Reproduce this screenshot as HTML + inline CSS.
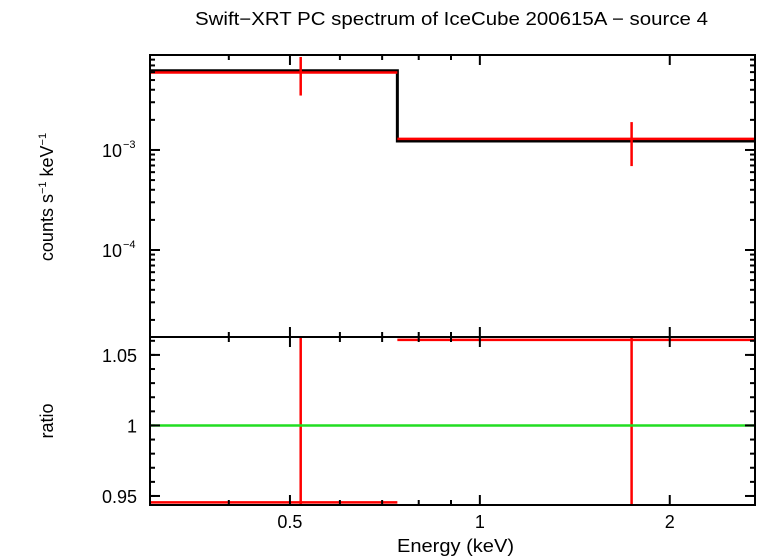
<!DOCTYPE html>
<html><head><meta charset="utf-8"><style>
body{margin:0;background:#fff}
svg{display:block;font-family:"Liberation Sans",sans-serif}
</style></head><body>
<svg id="c" width="758" height="556"></svg>
<script>
const binLo=[0.30,0.74];
const binHi=[0.74,2.73];
const binCenter=[0.52,1.74];
const dataRate=[5.95e-3,1.29e-3];
const errLo=[3.5e-3,6.9e-4];
const errHi=[8.5e-3,1.9e-3];
const modelRate=[6.2e-3,1.23e-3];
const ratio=[0.9455,1.0607];
const ratioLo=[0.90,0.90];
const ratioHi=[1.10,1.10];
const xMajor=[0.5,1,2];
const xMajorLabels=["0.5","1","2"];
const xMinor=[0.3,0.4,0.6,0.7,0.8,0.9];
const yMajor=[1e-4,1e-3];
const yMajorLabels=["10","10"];
const rTicks=[0.95,1,1.05];
const rLabels=["0.95","1","1.05"];

const L=150,R=755,T1=55,B1=337,T2=337,B2=505;
const xMin=0.30,xMax=2.73,yMin=1.35e-5,yMax=8.9e-3,rMin=0.9436,rMax=1.0627;
const X=v=>L+(Math.log10(v)-Math.log10(xMin))/(Math.log10(xMax)-Math.log10(xMin))*(R-L);
const Y=v=>B1-(Math.log10(v)-Math.log10(yMin))/(Math.log10(yMax)-Math.log10(yMin))*(B1-T1);
const YR=v=>B2-(v-rMin)/(rMax-rMin)*(B2-T2);
const NS="http://www.w3.org/2000/svg";
const svg=document.getElementById('c');
function el(tag,attrs,txt){const e=document.createElementNS(NS,tag);for(const k in attrs)e.setAttribute(k,attrs[k]);if(txt!==undefined)e.textContent=txt;svg.appendChild(e);return e;}
function ln(x1,y1,x2,y2,col,w){return el('line',{x1,y1,x2,y2,stroke:col,'stroke-width':w});}
const clampY=v=>Math.max(T1,Math.min(B1,v));
const clampR=v=>Math.max(T2,Math.min(B2,v));

let d='';
for(let i=0;i<binLo.length;i++){d+=(i?'L':'M')+X(binLo[i])+','+Y(modelRate[i])+'L'+X(binHi[i])+','+Y(modelRate[i]);}
let m=el('path',{d,fill:'none',stroke:'#000','stroke-width':3});


for(let i=0;i<binLo.length;i++){
 let h=ln(X(binLo[i]),Y(dataRate[i]),X(binHi[i]),Y(dataRate[i]),'#f00',2.5);
 
 
 let v=ln(X(binCenter[i]),clampY(Y(errHi[i])),X(binCenter[i]),clampY(Y(errLo[i])),'#f00',2.5);
 
 
 let rh=ln(X(binLo[i]),YR(ratio[i]),X(binHi[i]),YR(ratio[i]),'#f00',2.5);
 
 
 let rv=ln(X(binCenter[i]),clampR(YR(ratioHi[i])),X(binCenter[i]),clampR(YR(ratioLo[i])),'#f00',2.5);
 
 
}
let g=ln(L,YR(1),R,YR(1),'#2d2',2.5);



let f1=el('rect',{x:L,y:T1,width:R-L,height:B1-T1,fill:'none',stroke:'#000','stroke-width':2});


let f2=el('rect',{x:L,y:T2,width:R-L,height:B2-T2,fill:'none',stroke:'#000','stroke-width':2});



xMajor.forEach((v,i)=>{const x=X(v);
 ln(x,T1,x,T1+10,'#000',2);ln(x,B1,x,B1-10,'#000',2);ln(x,T2,x,T2+10,'#000',2);ln(x,B2,x,B2-10,'#000',2);
 let t=el('text',{x,y:528,'font-size':18,'text-anchor':'middle'},xMajorLabels[i]);
 
 });
xMinor.forEach(v=>{const x=X(v);if(x<=L+1)return;
 ln(x,T1,x,T1+5,'#000',2);ln(x,B1,x,B1-5,'#000',2);ln(x,T2,x,T2+5,'#000',2);ln(x,B2,x,B2-5,'#000',2);});
for(let e=-5;e<=-2;e++)for(let k=1;k<=9;k++){const v=k*Math.pow(10,e);if(v<yMin||v>yMax)continue;const y=Y(v);const len=k==1?10:5;
 ln(L,y,L+len,y,'#000',2);ln(R,y,R-len,y,'#000',2);}
yMajor.forEach((v,i)=>{const y=Y(v);
 let t=el('text',{x:122,y:y+7,'font-size':18,'text-anchor':'end'},yMajorLabels[i]);
 
 
 el('text',{x:123,y:y-2,'font-size':11},'\u2212'+(Math.abs(Math.log10(v))));});
rTicks.forEach((v,i)=>{const y=YR(v);ln(L,y,L+10,y,'#000',2);ln(R,y,R-10,y,'#000',2);
 let t=el('text',{x:137,y:y+7,'font-size':18,'text-anchor':'end'},rLabels[i]);
 
 });
for(let v=0.95;v<=1.06;v+=0.01){const y=YR(v);ln(L,y,L+5,y,'#000',2);ln(R,y,R-5,y,'#000',2);}

let ti=el('text',{x:195,y:25,'font-size':18,textLength:513,lengthAdjust:'spacingAndGlyphs'},'Swift\u2212XRT PC spectrum of IceCube 200615A \u2212 source 4');


let xl=el('text',{x:397,y:552,'font-size':18,textLength:117,lengthAdjust:'spacingAndGlyphs'},'Energy (keV)');


let yl=el('text',{x:0,y:0,'font-size':18,'text-anchor':'middle',transform:'translate(53,197) rotate(-90)'});
yl.innerHTML='counts s<tspan font-size="11" dy="-7">\u22121</tspan><tspan dy="7"> keV</tspan><tspan font-size="11" dy="-7">\u22121</tspan>';


let rl=el('text',{x:0,y:0,'font-size':18,'text-anchor':'middle',transform:'translate(53,421) rotate(-90)'},'ratio');


</script>
</body></html>
